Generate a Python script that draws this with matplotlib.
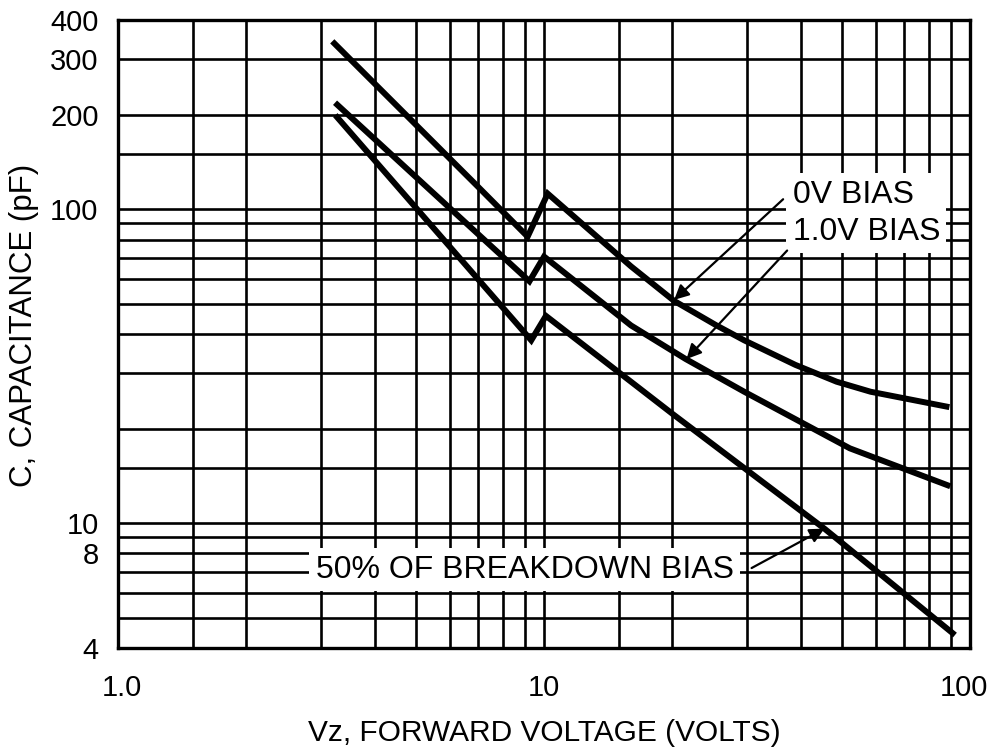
import matplotlib
matplotlib.use("Agg")
import matplotlib.pyplot as plt
from matplotlib.ticker import FixedLocator, NullFormatter
import matplotlib.transforms as mtransforms

plt.rcParams['font.family'] = ['Liberation Sans', 'DejaVu Sans']

# curves (Vz in volts, C in pF)
vz_0v = [3.22, 6.99, 9.15, 10.2, 16.0, 20.2, 25.4, 29.5, 38.9, 48.6, 58.4, 88.0]
c_0v = [337, 118, 81.7, 112, 65.7, 51.0, 42.6, 38.2, 31.9, 28.2, 26.2, 23.5]

vz_1v = [3.27, 9.24, 10.0, 16.0, 21.5, 29.5, 52.2, 88.5]
c_1v = [215, 58.9, 70.6, 42.6, 33.3, 26.2, 17.3, 13.2]

vz_50 = [3.27, 9.33, 10.1, 20.0, 45.5, 91.0]
c_50 = [196, 38.2, 45.7, 22.3, 9.6, 4.46]

# grid and tick labels
x_grid = [1.5, 2, 3, 4, 5, 6, 7, 8, 9, 15, 20, 30, 40, 50, 60, 70, 80, 90]
x_labels = [1, 10, 100]
x_label_text = ['1.0', '10', '100']
y_grid = [5, 6, 7, 9, 15, 20, 30, 40, 50, 60, 70, 80, 90, 150]
y_labels = [4, 8, 10, 100, 200, 300, 400]
y_label_text = ['4', '8', '10', '100', '200', '300', '400']

fig = plt.figure(figsize=(9.96, 7.52), dpi=100)
ax = fig.add_axes([0.1185, 0.1383, 0.8555, 0.835])
ax.set_xscale('log')
ax.set_yscale('log')
ax.set_xlim(1, 100)
ax.set_ylim(4, 400)

ax.xaxis.set_major_locator(FixedLocator(x_labels))
ax.xaxis.set_minor_locator(FixedLocator(x_grid))
ax.set_xticklabels(x_label_text)
ax.xaxis.set_minor_formatter(NullFormatter())
ax.yaxis.set_major_locator(FixedLocator(y_labels))
ax.yaxis.set_minor_locator(FixedLocator(y_grid))
ax.set_yticklabels(y_label_text)
ax.yaxis.set_minor_formatter(NullFormatter())

ax.tick_params(which='both', length=0)
ax.tick_params(axis='x', pad=19, labelsize=21)
ax.tick_params(axis='y', pad=14, labelsize=21)
ax.grid(which='both', color='black', lw=1.9)
ax.set_axisbelow(True)
for s in ax.spines.values():
    s.set_linewidth(2.4)

# nudge "1.0" right and "100" left, as in the original
labs = ax.get_xticklabels()
labs[0].set_transform(labs[0].get_transform() + mtransforms.ScaledTranslation(0.04, 0, fig.dpi_scale_trans))
labs[2].set_transform(labs[2].get_transform() + mtransforms.ScaledTranslation(-0.06, 0, fig.dpi_scale_trans))

for vz, c in [(vz_0v, c_0v), (vz_1v, c_1v), (vz_50, c_50)]:
    ax.plot(vz, c, color='black', lw=4.3, solid_joinstyle='miter', zorder=3)

ax.set_xlabel('Vz, FORWARD VOLTAGE (VOLTS)', fontsize=21.5, labelpad=12)
ax.set_ylabel('C, CAPACITANCE (pF)', fontsize=22.5)
ax.yaxis.set_label_coords(-0.093, 0.514)

box = dict(boxstyle='square,pad=0.2', fc='white', ec='none')
ax.text(38.3, 97, '0V BIAS\n1.0V BIAS', fontsize=23, ha='left', va='center',
        linespacing=1.3, bbox=box, zorder=4)
ax.text(9.0, 7.1, '50% OF BREAKDOWN BIAS', fontsize=23, ha='center', va='center',
        bbox=box, zorder=4)

arrow = dict(arrowstyle='-|>', color='black', lw=1.6, mutation_scale=22, shrinkA=0, shrinkB=0)
ax.annotate('', xy=(20.2, 51.4), xytext=(36.4, 107.5), arrowprops=arrow, zorder=5)
ax.annotate('', xy=(21.6, 33.3), xytext=(37.2, 73.8), arrowprops=arrow, zorder=5)
ax.annotate('', xy=(45.5, 9.6), xytext=(30.7, 7.19), arrowprops=arrow, zorder=5)

fig.savefig('out.png', dpi=100)
